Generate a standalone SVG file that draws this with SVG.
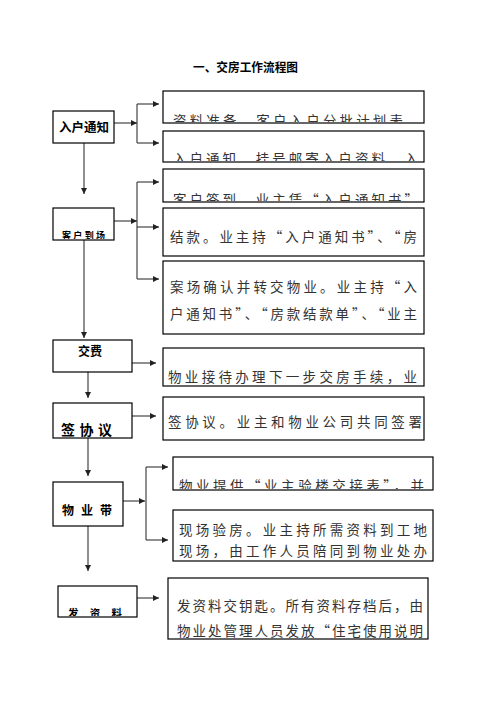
<svg xmlns="http://www.w3.org/2000/svg" width="496" height="702" viewBox="0 0 496 702">
<style>
.bx{fill:#fff;stroke:#000;stroke-width:1.2}
.cn{fill:none;stroke:#333;stroke-width:1.1}
.t{font-family:"Noto Sans CJK SC","Liberation Sans",sans-serif;font-size:13.5px;fill:#333}
.n{font-family:"Noto Sans CJK SC","Liberation Sans",sans-serif;font-weight:bold;fill:#000}
</style>
<defs>
<marker id="ah" markerUnits="userSpaceOnUse" markerWidth="6" markerHeight="6" refX="6" refY="3" orient="auto">
<path d="M0,0 L6,3 L0,6 z" fill="#222"/>
</marker>
<clipPath id="cA"><rect x="164" y="92" width="259" height="30"/></clipPath>
<clipPath id="cB"><rect x="164" y="132" width="259" height="29"/></clipPath>
<clipPath id="cC"><rect x="164" y="170" width="259" height="31"/></clipPath>
<clipPath id="cF"><rect x="164" y="349" width="259" height="36"/></clipPath>
<clipPath id="cH"><rect x="174" y="458" width="258" height="31"/></clipPath>
<clipPath id="cN2"><rect x="54" y="209" width="59" height="30"/></clipPath>
<clipPath id="cN6"><rect x="59" y="587" width="77" height="29"/></clipPath>
</defs>
<rect width="496" height="702" fill="#fff"/>
<text x="193" y="72" class="n" font-size="12" textLength="105" lengthAdjust="spacingAndGlyphs">一、交房工作流程图</text>

<g id="connectors">
<path class="cn" d="M114,123 H137" marker-end="url(#ah)"/>
<path class="cn" d="M137,104 V143"/>
<path class="cn" d="M137,104 H159" marker-end="url(#ah)"/>
<path class="cn" d="M137,143 H159" marker-end="url(#ah)"/>
<path class="cn" d="M84,143 V194" marker-end="url(#ah)"/>
<path class="cn" d="M114,221 H137" marker-end="url(#ah)"/>
<path class="cn" d="M137,182 V279"/>
<path class="cn" d="M137,182 H159" marker-end="url(#ah)"/>
<path class="cn" d="M137,227 H159" marker-end="url(#ah)"/>
<path class="cn" d="M137,279 H159" marker-end="url(#ah)"/>
<path class="cn" d="M84,240 V338" marker-end="url(#ah)"/>
<path class="cn" d="M132,363 H156" marker-end="url(#ah)"/>
<path class="cn" d="M88,372 V398" marker-end="url(#ah)"/>
<path class="cn" d="M132,416 H156" marker-end="url(#ah)"/>
<path class="cn" d="M88,438 V476" marker-end="url(#ah)"/>
<path class="cn" d="M123,501 H145" marker-end="url(#ah)"/>
<path class="cn" d="M146,467 V540"/>
<path class="cn" d="M146,467 H168" marker-end="url(#ah)"/>
<path class="cn" d="M146,540 H168" marker-end="url(#ah)"/>
<path class="cn" d="M88,526 V571" marker-end="url(#ah)"/>
<path class="cn" d="M137,598 H159" marker-end="url(#ah)"/>
</g>

<g id="n1"><rect class="bx" x="53" y="111" width="61" height="32"/>
<text class="n" x="84" y="131.5" font-size="12.5" text-anchor="middle">入户通知</text></g>
<g id="n2"><rect class="bx" x="53" y="208" width="61" height="32"/>
<text class="n" x="62" y="239" font-size="9" textLength="43" lengthAdjust="spacing" clip-path="url(#cN2)">客户到场</text></g>
<g id="n3"><rect class="bx" x="53" y="340" width="79" height="32"/>
<text class="n" x="90" y="355.5" font-size="12" text-anchor="middle">交费</text></g>
<g id="n4"><rect class="bx" x="53" y="403" width="79" height="35"/>
<text class="n" x="61" y="435" font-size="14" textLength="51" lengthAdjust="spacing">签协议</text></g>
<g id="n5"><rect class="bx" x="53" y="482" width="70" height="44"/>
<text class="n" x="62" y="514.5" font-size="12" textLength="50" lengthAdjust="spacing">物业带</text></g>
<g id="n6"><rect class="bx" x="58" y="586" width="79" height="31"/>
<text class="n" x="68" y="616.5" font-size="10.5" textLength="54" lengthAdjust="spacing" clip-path="url(#cN6)">发资料</text></g>

<g id="bA"><rect class="bx" x="163" y="91" width="261" height="32"/>
<text class="t" x="173" y="126" textLength="230" lengthAdjust="spacing" clip-path="url(#cA)">资料准备。客户入户分批计划表</text></g>
<g id="bB"><rect class="bx" x="163" y="131" width="261" height="31"/>
<text class="t" x="173" y="164" textLength="245" lengthAdjust="spacing" clip-path="url(#cB)">入户通知，挂号邮寄入户资料，入</text></g>
<g id="bC"><rect class="bx" x="163" y="169" width="261" height="33"/>
<text class="t" x="173" y="204.5" textLength="245" lengthAdjust="spacing" clip-path="url(#cC)">客户签到，业主凭“入户通知书”</text></g>
<g id="bD"><rect class="bx" x="163" y="208" width="261" height="48"/>
<text class="t" x="170" y="242" textLength="247" lengthAdjust="spacing">结款。业主持“入户通知书”、“房</text></g>
<g id="bE"><rect class="bx" x="163" y="261" width="261" height="73"/>
<text class="t" x="170" y="292" textLength="247" lengthAdjust="spacing">案场确认并转交物业。业主持“入</text>
<text class="t" x="170" y="319" textLength="247" lengthAdjust="spacing">户通知书”、“房款结款单”、“业主</text></g>
<g id="bF"><rect class="bx" x="163" y="348" width="261" height="38"/>
<text class="t" x="168" y="382" textLength="249" lengthAdjust="spacing" clip-path="url(#cF)">物业接待办理下一步交房手续，业</text></g>
<g id="bG"><rect class="bx" x="163" y="397" width="261" height="43"/>
<text class="t" x="168" y="427" textLength="254" lengthAdjust="spacing">签协议。业主和物业公司共同签署</text></g>
<g id="bH"><rect class="bx" x="173" y="457" width="260" height="33"/>
<text class="t" x="179" y="491" textLength="245" lengthAdjust="spacing" clip-path="url(#cH)">物业提供“业主验楼交接表”，并</text></g>
<g id="bI"><rect class="bx" x="173" y="510" width="260" height="51"/>
<text class="t" x="179" y="535" textLength="248" lengthAdjust="spacing">现场验房。业主持所需资料到工地</text>
<text class="t" x="179" y="556" textLength="248" lengthAdjust="spacing">现场，由工作人员陪同到物业处办</text></g>
<g id="bJ"><rect class="bx" x="168" y="578" width="260" height="61"/>
<text class="t" x="177" y="611" textLength="246" lengthAdjust="spacing">发资料交钥匙。所有资料存档后，由</text>
<text class="t" x="177" y="636" textLength="246" lengthAdjust="spacing">物业处管理人员发放“住宅使用说明</text></g>
</svg>
